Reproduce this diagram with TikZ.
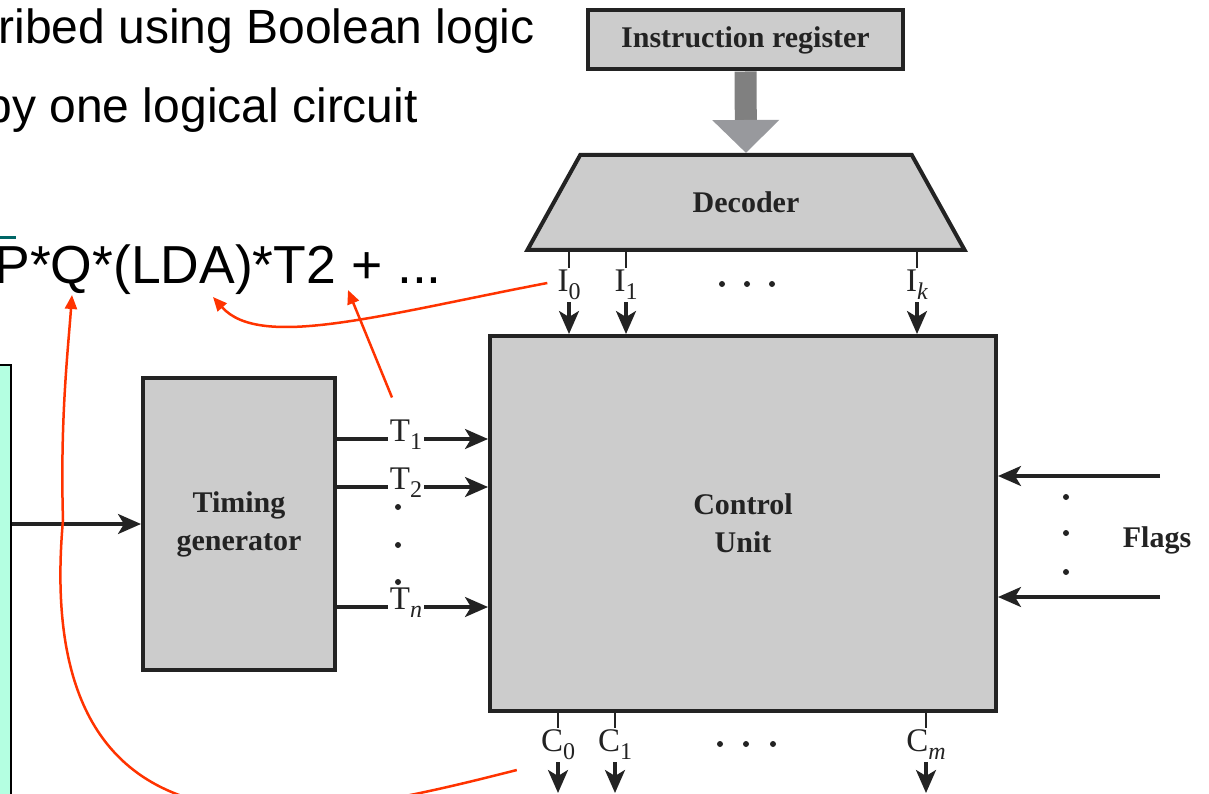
\documentclass[tikz,border=0pt]{standalone}
\usepackage{fontspec}
\setmainfont{Liberation Serif}
\newfontfamily\slidefont{Liberation Sans}
\usetikzlibrary{arrows.meta,shapes.geometric,calc}
\definecolor{boxgray}{RGB}{204,204,204}
\definecolor{linedark}{RGB}{35,35,35}
\definecolor{shaftgray}{RGB}{128,128,128}
\definecolor{headgray}{RGB}{152,153,157}
\definecolor{annotred}{RGB}{255,51,0}
\definecolor{mint}{RGB}{180,255,225}
\definecolor{barteal}{RGB}{0,102,102}
\newcommand{\sub}[1]{\raisebox{-8pt}{\fontsize{24}{24}\selectfont #1}}
\tikzset{
  block/.style={draw=linedark, fill=boxgray, line width=4pt, text=linedark, align=center,
    font=\fontsize{30}{38}\selectfont\bfseries},
  lbl/.style={font=\fontsize{33}{33}\selectfont, inner sep=2pt, text=linedark},
  wire/.style={draw=linedark, line width=3.2pt},
  sig/.style={wire, -{Stealth[length=23pt,width=20pt,inset=6pt]}},
  annot/.style={draw=annotred, line width=2.5pt, -{Triangle[length=14pt,width=12pt]}},
  slide/.style={font=\slidefont\fontsize{48}{48}\selectfont, inner sep=0pt},
}
\begin{document}
\begin{tikzpicture}[x=1pt, y=-1pt]
\useasboundingbox (0,0) rectangle (1209,794);

\node[slide, anchor=base east] (l1) at (535,44) {ribed using Boolean logic};
\node[slide, anchor=base east] (l2) at (418,123) {by one logical circuit};
\node[slide, font=\slidefont\fontsize{53.5}{53.5}\selectfont, anchor=base east] (expr) at (442,283) {P*Q*(LDA)*T2 + ...};
\draw[barteal, line width=3pt] (0,238) -- (16,238);

\node[block, minimum width=315pt, minimum height=59pt] (ir) at (745.5,40) {Instruction register};
\node[block, trapezium, trapezium left angle=57, trapezium right angle=57, trapezium stretches=true,
  minimum width=438pt, minimum height=95pt] (dec) at (746,202.5) {Decoder};
\draw[shaftgray, line width=22pt, -{Triangle[length=33pt,width=65pt,color=headgray]}] (ir.south) -- (dec.north);

\node[block, minimum width=506pt, minimum height=375pt] (cu) at (743,523.5) {Control\\Unit};
\node[block, minimum width=192pt, minimum height=292pt] (tg) at (239,524) {Timing\\generator};
\node[draw=black, fill=mint, line width=2pt, minimum width=52pt, minimum height=470pt] (src) at (-15,600) {};
\draw[sig] (src.east |- tg.west) -- (tg.west);

\foreach \n/\y/\s in {1/439/1,2/487/2,n/607/\textit{n}} {
  \node[lbl, anchor=mid] (t\n) at (406,\y) {T\sub{\s}};
  \draw[wire] (tg.east |- t\n.mid west) -- (t\n.mid west);
  \draw[sig] (t\n.mid east) -- (cu.west |- t\n.mid east);
}
\foreach \y in {507,545,582} \fill[linedark] (398,\y) circle (3pt);

\foreach \n/\x/\s in {0/569/0,1/626/1,k/917/\textit{k}} {
  \node[lbl] (i\n) at (\x,285) {I\sub{\s}};
  \draw[wire, line width=2.5pt] (dec.south -| i\n) -- (i\n.north);
  \draw[sig] (i\n.south) -- (cu.north -| i\n);
}
\foreach \x in {722,747,772} \fill[linedark] (\x,284) circle (3pt);

\coordinate (cbot) at (0,793);
\foreach \n/\x/\s in {0/558/0,1/615/1,m/926/\textit{m}} {
  \node[lbl] (c\n) at (\x,745) {C\sub{\s}};
  \draw[wire, line width=2.5pt] (cu.south -| c\n) -- (c\n.north);
  \draw[sig] (c\n.south) -- (c\n |- cbot);
}
\foreach \x in {720,746,773} \fill[linedark] (\x,744) circle (3pt);

\node[block, draw=none, fill=none] (flags) at (1157,540) {Flags};
\coordinate (f1) at (1160,476);
\coordinate (f2) at (1160,597);
\draw[sig] (f1) -- (cu.east |- f1);
\draw[sig] (f2) -- (cu.east |- f2);
\foreach \y in {497,533,572} \fill[linedark] (1066,\y) circle (3pt);

\coordinate (atQ) at (72,295);
\coordinate (atLDA) at (213,297);
\coordinate (atPlus) at (348,290);
\draw[annot] ($(i0.west)+(-8,-2)$) .. controls (380,315) and (260,350) .. (atLDA);
\draw[annot] ($(t1.north)+(-14,-20)$) -- (atPlus);
\draw[annot] ($(c0.west)+(-22,25)$) .. controls (320,820) and (30,890) .. (63,520)
  .. controls (60,420) and (68,350) .. (atQ);
\end{tikzpicture}
\end{document}
